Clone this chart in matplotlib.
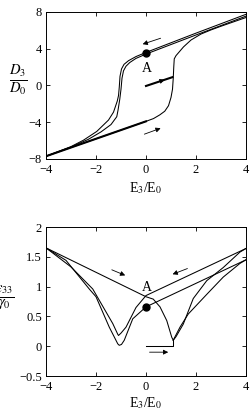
import matplotlib
matplotlib.use("Agg")
import matplotlib.pyplot as plt
import numpy as np

plt.rcParams["font.family"] = ["Liberation Serif", "DejaVu Serif"]
plt.rcParams["mathtext.fontset"] = "stix"

# Top panel: D3/D0 vs E3/E0
init_E = [0.0, 1.05]
init_D = [-0.05, 0.9]

asc_E = [-4, -3, -2, -1, 0, 0.3, 0.55, 0.75, 0.9, 1.0, 1.06, 1.09, 1.11, 1.13, 1.2, 1.5, 1.8, 2.2, 2.6, 3.0, 4.0]
asc_D = [-7.7, -6.75, -5.8, -4.85, -3.9, -3.6, -3.2, -2.8, -2.2, -1.3, -0.4, 0.8, 2.0, 2.9, 3.25, 4.2, 4.95, 5.6, 6.05, 6.45, 7.4]

dsc1_E = [4, 2, 0, -0.4, -0.7, -0.88, -0.98, -1.04, -1.07, -1.1, -1.15, -1.3, -1.5, -1.97, -2.5, -3.0, -4]
dsc1_D = [7.75, 5.7, 3.6, 3.15, 2.7, 2.3, 1.8, 1.0, -0.2, -1.1, -1.7, -2.9, -3.76, -5.0, -5.95, -6.65, -7.7]

dsc2_E = [4, 2, 0, -0.4, -0.65, -0.8, -0.9, -0.96, -1.0, -1.05, -1.12, -1.17, -1.4, -1.8, -2.3, -3.0, -4]
dsc2_D = [7.55, 5.5, 3.42, 2.95, 2.5, 2.1, 1.6, 0.8, -0.4, -1.5, -2.7, -3.4, -4.25, -5.05, -5.85, -6.7, -7.7]

# Bottom panel: e33/gamma0 vs E3/E0
binit_E = [0.0, 1.09, 1.09]
binit_v = [0.0, 0.0, 0.1]

basc_E = [-4, -2, 0, 0.29, 0.56, 0.83, 1.03, 1.09]
basc_v = [1.65, 1.24, 0.83, 0.79, 0.66, 0.43, 0.15, 0.1]

r1_E = [1.09, 1.2, 1.49, 1.89, 2.43, 3.09, 3.76, 4.0]
r1_v = [0.1, 0.16, 0.37, 0.8, 1.1, 1.32, 1.58, 1.64]
r2_E = [1.09, 1.15, 1.36, 1.69, 2.43, 3.09, 3.76, 4.0]
r2_v = [0.1, 0.15, 0.32, 0.54, 0.87, 1.16, 1.39, 1.45]

up_E = [4, 0, -0.4, -0.8, -1.0, -1.1, -1.13, -1.33, -2.13, -3.0, -4]
up_v = [1.64, 0.85, 0.65, 0.32, 0.22, 0.18, 0.2, 0.38, 0.96, 1.33, 1.65]
lo_E = [4, 0, -0.53, -0.87, -0.98, -1.07, -1.13, -1.47, -2.0, -2.27, -3.2, -4]
lo_v = [1.45, 0.66, 0.46, 0.1, 0.03, 0.015, 0.04, 0.32, 0.83, 0.96, 1.44, 1.65]

fig = plt.figure(figsize=(2.51, 4.08), dpi=100)
ax1 = fig.add_axes([0.1833, 0.6103, 0.7968, 0.3603])
ax2 = fig.add_axes([0.1833, 0.0784, 0.7968, 0.3652])

lw = 0.75
k = "black"

# top curves
ax1.plot(asc_E, asc_D, color=k, lw=lw)
a_E = np.array(asc_E)
a_D = np.array(asc_D)
ax1.plot(a_E[a_E <= 0], a_D[a_E <= 0], color=k, lw=1.5)
ax1.plot(dsc1_E, dsc1_D, color=k, lw=lw)
ax1.plot(dsc2_E, dsc2_D, color=k, lw=lw)
ax1.plot(init_E, init_D, color=k, lw=1.5)
ax1.plot([0], [3.55], "o", color=k, ms=5)
ax1.text(0.05, 1.9, "A", ha="center", va="center", fontsize=10)

arr = dict(arrowstyle="-|>", color=k, lw=0.6, mutation_scale=7)
ax1.annotate("", xy=(-0.24, 4.4), xytext=(0.69, 5.24), arrowprops=arr)
ax1.annotate("", xy=(0.69, -4.55), xytext=(-0.17, -5.4), arrowprops=arr)
ax1.annotate("", xy=(0.85, 0.72), xytext=(0.5, 0.4), arrowprops=arr)

ax1.set_xlim(-4, 4)
ax1.set_ylim(-8, 8)
ax1.set_xticks([-4, -2, 0, 2, 4])
ax1.set_yticks([-8, -4, 0, 4, 8])
ax1.set_xlabel("E$_3$/E$_0$", fontsize=10)
ax1.xaxis.set_label_coords(0.5, -0.145)

# bottom curves
ax2.plot(binit_E, binit_v, color=k, lw=lw)
ax2.plot(basc_E, basc_v, color=k, lw=lw)
ax2.plot(r1_E, r1_v, color=k, lw=lw)
ax2.plot(r2_E, r2_v, color=k, lw=lw)
ax2.plot(up_E, up_v, color=k, lw=lw)
ax2.plot(lo_E, lo_v, color=k, lw=lw)
ax2.plot([0], [0.66], "o", color=k, ms=5)
ax2.text(0.03, 0.99, "A", ha="center", va="center", fontsize=10)

ax2.annotate("", xy=(-0.73, 1.17), xytext=(-1.47, 1.30), arrowprops=arr)
ax2.annotate("", xy=(0.96, 1.19), xytext=(1.76, 1.32), arrowprops=arr)
ax2.annotate("", xy=(1.0, -0.1), xytext=(0.03, -0.1), arrowprops=arr)

ax2.set_xlim(-4, 4)
ax2.set_ylim(-0.5, 2)
ax2.set_xticks([-4, -2, 0, 2, 4])
ax2.set_yticks([-0.5, 0, 0.5, 1, 1.5, 2])
ax2.set_yticklabels(["\u22120.5", "0", "0.5", "1", "1.5", "2"])
ax2.set_xlabel("E$_3$/E$_0$", fontsize=10)
ax2.xaxis.set_label_coords(0.5, -0.13)

for ax in (ax1, ax2):
    ax.tick_params(direction="in", top=True, right=True, length=3, width=0.6, labelsize=9)
    ax.tick_params(axis="x", pad=3.5)
    ax.tick_params(axis="y", pad=3)
    for s in ax.spines.values():
        s.set_linewidth(0.7)

fig.text(18.5 / 251, 1 - 81 / 408, r"$\frac{D_3}{D_0}$", ha="center", va="center", fontsize=15)
fig.text(5 / 251, 1 - 298 / 408, r"$\frac{\varepsilon_{33}}{\gamma_0}$", ha="center", va="center", fontsize=15)

fig.savefig("out.png", dpi=100)
